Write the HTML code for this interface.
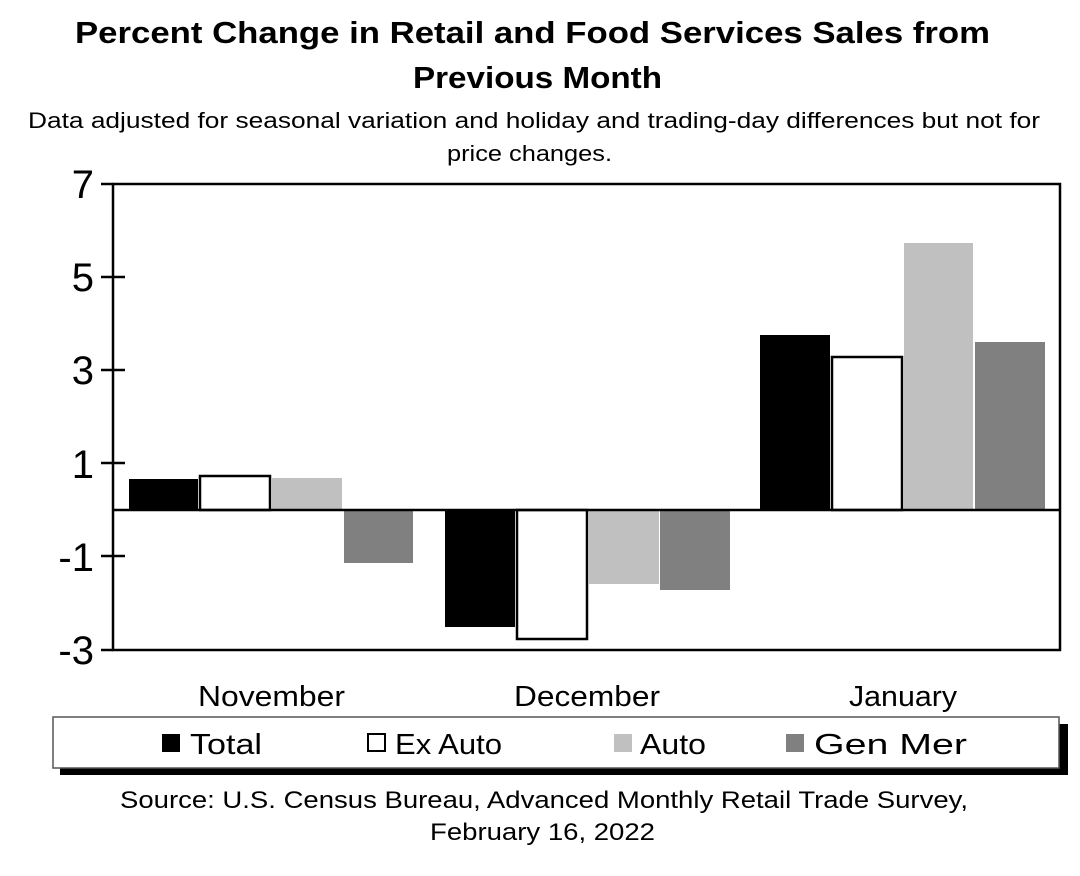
<!DOCTYPE html>
<html><head><style>
body{margin:0;background:#fff;width:1080px;height:871px;overflow:hidden;font-family:"Liberation Sans",sans-serif;}
</style></head><body>
<svg width="1080" height="871" xmlns="http://www.w3.org/2000/svg" font-family="Liberation Sans, sans-serif">
<text x="75" y="43" font-size="31" font-weight="bold" textLength="915" lengthAdjust="spacingAndGlyphs">Percent Change in Retail and Food Services Sales from</text>
<text x="413" y="88" font-size="31" font-weight="bold" textLength="249" lengthAdjust="spacingAndGlyphs">Previous Month</text>
<text x="28" y="128" font-size="22" textLength="1012" lengthAdjust="spacingAndGlyphs">Data adjusted for seasonal variation and holiday and trading-day differences but not for</text>
<text x="447" y="161" font-size="22" textLength="165" lengthAdjust="spacingAndGlyphs">price changes.</text>
<g font-size="40" text-anchor="end">
<text x="94" y="198">7</text><text x="94" y="291">5</text><text x="94" y="384">3</text><text x="94" y="478">1</text><text x="94" y="571">-1</text><text x="94" y="664">-3</text>
</g>
<rect x="113" y="184" width="947" height="466" fill="none" stroke="#000" stroke-width="2.5"/>
<g stroke="#000" stroke-width="2.5">
<line x1="101" y1="184" x2="113" y2="184"/><line x1="101" y1="277" x2="125" y2="277"/><line x1="101" y1="370" x2="125" y2="370"/><line x1="101" y1="463" x2="125" y2="463"/><line x1="101" y1="556" x2="125" y2="556"/><line x1="101" y1="650" x2="113" y2="650"/>
</g>
<rect x="129" y="479" width="69" height="31" fill="#000"/>
<rect x="200" y="476" width="70" height="34" fill="#fff" stroke="#000" stroke-width="2.5"/>
<rect x="272" y="478" width="70" height="32" fill="#c0c0c0"/>
<rect x="344" y="510" width="69" height="53" fill="#808080"/>
<rect x="445" y="510" width="70" height="117" fill="#000"/>
<rect x="517" y="510" width="70" height="129" fill="#fff" stroke="#000" stroke-width="2.5"/>
<rect x="589" y="510" width="70" height="74" fill="#c0c0c0"/>
<rect x="660" y="510" width="70" height="80" fill="#808080"/>
<rect x="760" y="335" width="70" height="175" fill="#000"/>
<rect x="832" y="357" width="70" height="153" fill="#fff" stroke="#000" stroke-width="2.5"/>
<rect x="904" y="243" width="69" height="267" fill="#c0c0c0"/>
<rect x="975" y="342" width="70" height="168" fill="#808080"/>
<line x1="113" y1="510" x2="1060" y2="510" stroke="#000" stroke-width="2.5"/>
<g font-size="29">
<text x="198" y="706" textLength="147" lengthAdjust="spacingAndGlyphs">November</text>
<text x="514" y="706" textLength="146" lengthAdjust="spacingAndGlyphs">December</text>
<text x="849" y="706" textLength="108" lengthAdjust="spacingAndGlyphs">January</text>
</g>
<rect x="60" y="724" width="1008" height="51" fill="#000"/>
<rect x="53" y="717" width="1006" height="51" fill="#fff" stroke="#555" stroke-width="1.5"/>
<g font-size="29">
<rect x="162" y="734" width="18" height="18" fill="#000"/><text x="190" y="754" textLength="72" lengthAdjust="spacingAndGlyphs">Total</text>
<rect x="368" y="734" width="17" height="17" fill="#fff" stroke="#000" stroke-width="2"/><text x="395" y="754" textLength="107" lengthAdjust="spacingAndGlyphs">Ex Auto</text>
<rect x="614" y="734" width="18" height="18" fill="#c0c0c0"/><text x="640" y="754" textLength="66" lengthAdjust="spacingAndGlyphs">Auto</text>
<rect x="786" y="734" width="18" height="18" fill="#808080"/><text x="814" y="754" textLength="153" lengthAdjust="spacingAndGlyphs">Gen Mer</text>
</g>
<text x="120" y="808" font-size="24" textLength="848" lengthAdjust="spacingAndGlyphs">Source: U.S. Census Bureau, Advanced Monthly Retail Trade Survey,</text>
<text x="430" y="840" font-size="24" textLength="225" lengthAdjust="spacingAndGlyphs">February 16, 2022</text>
</svg>
</body></html>
